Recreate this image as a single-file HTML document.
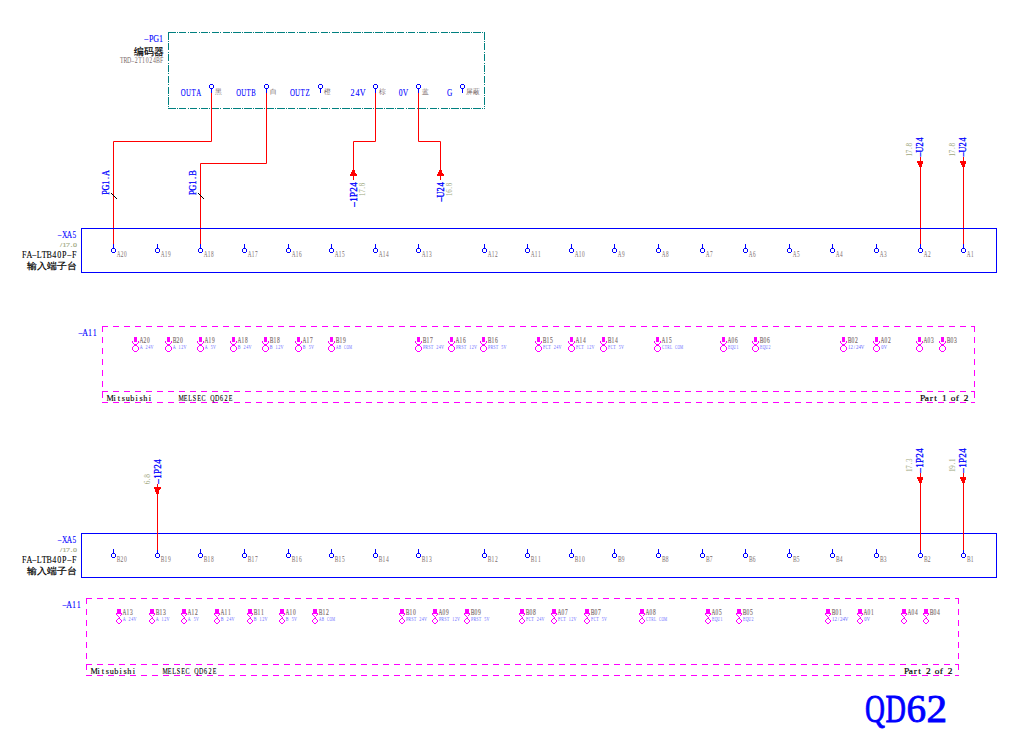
<!DOCTYPE html>
<html><head><meta charset="utf-8"><style>
html,body{margin:0;padding:0;background:#fff;width:1029px;height:731px;overflow:hidden;}
svg{display:block;}
</style></head><body>
<svg width="1029" height="731" viewBox="0 0 1029 731">
<rect x="0" y="0" width="1029" height="731" fill="#ffffff"/>
<line x1="168" y1="32.5" x2="485" y2="32.5" stroke="#008080" stroke-width="1" stroke-dasharray="7.5 1.2 1 1.2" shape-rendering="crispEdges"/>
<line x1="168.5" y1="32" x2="168.5" y2="109" stroke="#008080" stroke-width="1" stroke-dasharray="7.5 1.2 1 1.2" shape-rendering="crispEdges"/>
<line x1="168" y1="108.5" x2="485" y2="108.5" stroke="#008080" stroke-width="1" stroke-dasharray="7.5 1.2 1 1.2" shape-rendering="crispEdges"/>
<line x1="484.5" y1="32" x2="484.5" y2="109" stroke="#008080" stroke-width="1" stroke-dasharray="7.5 1.2 1 1.2" shape-rendering="crispEdges"/>
<text transform="translate(163.50,42.00) scale(0.7481376229257242,1)" x="-23.16 -16.54 -9.92 -3.31" y="0" text-anchor="middle" font-family="'Liberation Serif', serif" font-size="10.69" fill="#0000ff" stroke="#0000ff" stroke-width="0.1">–PG1</text>
<text x="163.50" y="54.50" font-family="'Liberation Sans', sans-serif" font-size="9.77" fill="#000000" text-anchor="end" stroke="#000000" stroke-width="0.2" textLength="29.50" lengthAdjust="spacingAndGlyphs">编码器</text>
<text transform="translate(163.50,62.60) scale(0.8161059512444285,1)" x="-51.08 -46.64 -42.20 -37.76 -33.31 -28.87 -24.43 -19.99 -15.55 -11.10 -6.66 -2.22" y="0" text-anchor="middle" font-family="'Liberation Serif', serif" font-size="7.18" fill="#7a6a6a">TRD–2T1024BF</text>
<path d="M210,84h3v1h-3zM210,88h3v1h-3zM209,85h1v3h-1zM213,85h1v3h-1z" fill="#0000ff"/>
<rect x="211" y="89" width="1" height="4" fill="#0000ff"/>
<text transform="translate(180.70,96.00) scale(0.6572911723339125,1)" x="3.92 11.75 19.59 27.42" y="0" text-anchor="middle" font-family="'Liberation Serif', serif" font-size="10.38" fill="#0000ff" stroke="#0000ff" stroke-width="0.1">OUTA</text>
<text x="215.00" y="93.60" font-family="'Liberation Sans', sans-serif" font-size="7.16" fill="#7a6a6a" textLength="6.80" lengthAdjust="spacingAndGlyphs">黑</text>
<path d="M265,84h3v1h-3zM265,88h3v1h-3zM264,85h1v3h-1zM268,85h1v3h-1z" fill="#0000ff"/>
<rect x="266" y="89" width="1" height="4" fill="#0000ff"/>
<text transform="translate(236.10,96.00) scale(0.6478259963070425,1)" x="3.84 11.52 19.20 26.88" y="0" text-anchor="middle" font-family="'Liberation Serif', serif" font-size="10.38" fill="#0000ff" stroke="#0000ff" stroke-width="0.1">OUTB</text>
<text x="270.00" y="93.60" font-family="'Liberation Sans', sans-serif" font-size="7.16" fill="#7a6a6a" textLength="6.80" lengthAdjust="spacingAndGlyphs">白</text>
<path d="M319,84h3v1h-3zM319,88h3v1h-3zM318,85h1v3h-1zM322,85h1v3h-1z" fill="#0000ff"/>
<rect x="320" y="89" width="1" height="4" fill="#0000ff"/>
<text transform="translate(290.10,96.00) scale(0.6614706830424483,1)" x="3.76 11.28 18.80 26.32" y="0" text-anchor="middle" font-family="'Liberation Serif', serif" font-size="10.38" fill="#0000ff" stroke="#0000ff" stroke-width="0.1">OUTZ</text>
<text x="324.00" y="93.60" font-family="'Liberation Sans', sans-serif" font-size="7.16" fill="#7a6a6a" textLength="6.80" lengthAdjust="spacingAndGlyphs">橙</text>
<path d="M374,84h3v1h-3zM374,88h3v1h-3zM373,85h1v3h-1zM377,85h1v3h-1z" fill="#0000ff"/>
<rect x="375" y="89" width="1" height="4" fill="#0000ff"/>
<text transform="translate(349.90,96.00) scale(0.7821468403409009,1)" x="3.24 9.72 16.19" y="0" text-anchor="middle" font-family="'Liberation Serif', serif" font-size="10.38" fill="#0000ff" stroke="#0000ff" stroke-width="0.1">24V</text>
<text x="379.00" y="93.60" font-family="'Liberation Sans', sans-serif" font-size="7.16" fill="#7a6a6a" textLength="6.80" lengthAdjust="spacingAndGlyphs">棕</text>
<path d="M417,84h3v1h-3zM417,88h3v1h-3zM416,85h1v3h-1zM420,85h1v3h-1z" fill="#0000ff"/>
<rect x="418" y="89" width="1" height="4" fill="#0000ff"/>
<text transform="translate(398.00,96.00) scale(0.7323365185307044,1)" x="3.45 10.34" y="0" text-anchor="middle" font-family="'Liberation Serif', serif" font-size="10.38" fill="#0000ff" stroke="#0000ff" stroke-width="0.1">0V</text>
<text x="422.00" y="93.60" font-family="'Liberation Sans', sans-serif" font-size="7.16" fill="#7a6a6a" textLength="6.80" lengthAdjust="spacingAndGlyphs">蓝</text>
<path d="M461,84h3v1h-3zM461,88h3v1h-3zM460,85h1v3h-1zM464,85h1v3h-1z" fill="#0000ff"/>
<rect x="462" y="89" width="1" height="4" fill="#0000ff"/>
<text transform="translate(446.70,96.00) scale(0.7117213379469421,1)" x="4.07" y="0" text-anchor="middle" font-family="'Liberation Serif', serif" font-size="10.38" fill="#0000ff" stroke="#0000ff" stroke-width="0.1">G</text>
<text x="466.00" y="93.60" font-family="'Liberation Sans', sans-serif" font-size="7.16" fill="#7a6a6a" textLength="13.60" lengthAdjust="spacingAndGlyphs">屏蔽</text>
<polyline points="211.5,93 211.5,141.5 113.5,141.5 113.5,244" fill="none" stroke="#ff0000" stroke-width="1"/>
<polyline points="266.5,93 266.5,163.5 200.5,163.5 200.5,244" fill="none" stroke="#ff0000" stroke-width="1"/>
<polyline points="375.5,93 375.5,141.5 353.5,141.5 353.5,170" fill="none" stroke="#ff0000" stroke-width="1"/>
<polyline points="418.5,93 418.5,141.5 440.5,141.5 440.5,170" fill="none" stroke="#ff0000" stroke-width="1"/>
<text transform="translate(108.50,195.00) rotate(-90) scale(0.7668093023255816,1)" x="3.20 9.59 15.98 22.37 28.76" y="0" text-anchor="middle" font-family="'Liberation Serif', serif" font-size="10.69" fill="#0000ff" stroke="#0000ff" stroke-width="0.25">PG1.A</text>
<line x1="111.0" y1="193" x2="117.0" y2="199" stroke="#000000" stroke-width="1"/>
<text transform="translate(195.50,195.00) rotate(-90) scale(0.7825066666666669,1)" x="3.13 9.39 15.65 21.92 28.18" y="0" text-anchor="middle" font-family="'Liberation Serif', serif" font-size="10.69" fill="#0000ff" stroke="#0000ff" stroke-width="0.25">PG1.B</text>
<line x1="198.0" y1="193" x2="204.0" y2="199" stroke="#000000" stroke-width="1"/>
<path d="M352,170h3v1h-3zM352,171h3v1h-3zM351,172h4v1h-4zM351,173h5v1h-5zM350,174h7v1h-7zM350,175h7v1h-7z" fill="#ff0000"/>
<line x1="353.5" y1="176" x2="353.5" y2="180" stroke="#ff0000" stroke-width="1"/>
<text transform="translate(357.30,207.00) rotate(-90) scale(0.8419462409605677,1)" x="2.97 8.91 14.85 20.79 26.72" y="0" text-anchor="middle" font-family="'Liberation Serif', serif" font-size="10.69" fill="#0000ff" stroke="#0000ff" stroke-width="0.35">–1P24</text>
<text transform="translate(365.00,196.00) rotate(-90) scale(0.9325952380952381,1)" x="1.74 5.23 8.71 12.20" y="0" text-anchor="middle" font-family="'Liberation Serif', serif" font-size="7.33" fill="#a0a880">17.8</text>
<path d="M439,170h3v1h-3zM439,171h3v1h-3zM438,172h4v1h-4zM438,173h5v1h-5zM437,174h7v1h-7zM437,175h7v1h-7z" fill="#ff0000"/>
<line x1="440.5" y1="176" x2="440.5" y2="180" stroke="#ff0000" stroke-width="1"/>
<text transform="translate(444.30,202.00) rotate(-90) scale(0.7747903443513201,1)" x="3.23 9.68 16.13 22.59" y="0" text-anchor="middle" font-family="'Liberation Serif', serif" font-size="10.69" fill="#0000ff" stroke="#0000ff" stroke-width="0.35">–U24</text>
<text transform="translate(452.00,196.00) rotate(-90) scale(0.9325952380952381,1)" x="1.74 5.23 8.71 12.20" y="0" text-anchor="middle" font-family="'Liberation Serif', serif" font-size="7.33" fill="#a0a880">16.8</text>
<line x1="920.5" y1="157" x2="920.5" y2="245" stroke="#ff0000" stroke-width="1"/>
<path d="M917,161h6v1h-6zM917,162h6v1h-6zM918,163h5v1h-5zM918,164h4v1h-4zM919,165h3v1h-3zM919,166h3v1h-3z" fill="#ff0000"/>
<text transform="translate(923.10,157.00) rotate(-90) scale(0.7747903443513201,1)" x="3.23 9.68 16.13 22.59" y="0" text-anchor="middle" font-family="'Liberation Serif', serif" font-size="10.69" fill="#0000ff" stroke="#0000ff" stroke-width="0.3">–U24</text>
<text transform="translate(912.00,156.50) rotate(-90) scale(0.9684642857142857,1)" x="1.74 5.23 8.71 12.20" y="0" text-anchor="middle" font-family="'Liberation Serif', serif" font-size="7.33" fill="#a0a880">17.8</text>
<line x1="963.5" y1="157" x2="963.5" y2="245" stroke="#ff0000" stroke-width="1"/>
<path d="M960,161h6v1h-6zM960,162h6v1h-6zM961,163h5v1h-5zM961,164h4v1h-4zM962,165h3v1h-3zM962,166h3v1h-3z" fill="#ff0000"/>
<text transform="translate(966.10,157.00) rotate(-90) scale(0.7747903443513201,1)" x="3.23 9.68 16.13 22.59" y="0" text-anchor="middle" font-family="'Liberation Serif', serif" font-size="10.69" fill="#0000ff" stroke="#0000ff" stroke-width="0.3">–U24</text>
<text transform="translate(955.00,156.50) rotate(-90) scale(0.9684642857142857,1)" x="1.74 5.23 8.71 12.20" y="0" text-anchor="middle" font-family="'Liberation Serif', serif" font-size="7.33" fill="#a0a880">17.8</text>
<rect x="81.5" y="228.5" width="915" height="44" fill="none" stroke="#0000ff" stroke-width="1"/>
<path d="M112,248h3v1h-3zM112,252h3v1h-3zM111,249h1v3h-1zM115,249h1v3h-1z" fill="#0000ff"/>
<rect x="113" y="244" width="1" height="4" fill="#0000ff"/>
<text transform="translate(117.00,257.00) scale(0.7140975448869652,1)" x="2.33 7.00 11.67" y="0" text-anchor="middle" font-family="'Liberation Serif', serif" font-size="7.48" fill="#7a6a6a">A20</text>
<path d="M156,248h3v1h-3zM156,252h3v1h-3zM155,249h1v3h-1zM159,249h1v3h-1z" fill="#0000ff"/>
<rect x="157" y="244" width="1" height="4" fill="#0000ff"/>
<text transform="translate(161.00,257.00) scale(0.7140975448869652,1)" x="2.33 7.00 11.67" y="0" text-anchor="middle" font-family="'Liberation Serif', serif" font-size="7.48" fill="#7a6a6a">A19</text>
<path d="M199,248h3v1h-3zM199,252h3v1h-3zM198,249h1v3h-1zM202,249h1v3h-1z" fill="#0000ff"/>
<rect x="200" y="244" width="1" height="4" fill="#0000ff"/>
<text transform="translate(204.00,257.00) scale(0.7140975448869652,1)" x="2.33 7.00 11.67" y="0" text-anchor="middle" font-family="'Liberation Serif', serif" font-size="7.48" fill="#7a6a6a">A18</text>
<path d="M243,248h3v1h-3zM243,252h3v1h-3zM242,249h1v3h-1zM246,249h1v3h-1z" fill="#0000ff"/>
<rect x="244" y="244" width="1" height="4" fill="#0000ff"/>
<text transform="translate(248.00,257.00) scale(0.7140975448869652,1)" x="2.33 7.00 11.67" y="0" text-anchor="middle" font-family="'Liberation Serif', serif" font-size="7.48" fill="#7a6a6a">A17</text>
<path d="M287,248h3v1h-3zM287,252h3v1h-3zM286,249h1v3h-1zM290,249h1v3h-1z" fill="#0000ff"/>
<rect x="288" y="244" width="1" height="4" fill="#0000ff"/>
<text transform="translate(292.00,257.00) scale(0.7140975448869652,1)" x="2.33 7.00 11.67" y="0" text-anchor="middle" font-family="'Liberation Serif', serif" font-size="7.48" fill="#7a6a6a">A16</text>
<path d="M330,248h3v1h-3zM330,252h3v1h-3zM329,249h1v3h-1zM333,249h1v3h-1z" fill="#0000ff"/>
<rect x="331" y="244" width="1" height="4" fill="#0000ff"/>
<text transform="translate(335.00,257.00) scale(0.7140975448869652,1)" x="2.33 7.00 11.67" y="0" text-anchor="middle" font-family="'Liberation Serif', serif" font-size="7.48" fill="#7a6a6a">A15</text>
<path d="M374,248h3v1h-3zM374,252h3v1h-3zM373,249h1v3h-1zM377,249h1v3h-1z" fill="#0000ff"/>
<rect x="375" y="244" width="1" height="4" fill="#0000ff"/>
<text transform="translate(379.00,257.00) scale(0.7140975448869652,1)" x="2.33 7.00 11.67" y="0" text-anchor="middle" font-family="'Liberation Serif', serif" font-size="7.48" fill="#7a6a6a">A14</text>
<path d="M417,248h3v1h-3zM417,252h3v1h-3zM416,249h1v3h-1zM420,249h1v3h-1z" fill="#0000ff"/>
<rect x="418" y="244" width="1" height="4" fill="#0000ff"/>
<text transform="translate(422.00,257.00) scale(0.7140975448869652,1)" x="2.33 7.00 11.67" y="0" text-anchor="middle" font-family="'Liberation Serif', serif" font-size="7.48" fill="#7a6a6a">A13</text>
<path d="M483,248h3v1h-3zM483,252h3v1h-3zM482,249h1v3h-1zM486,249h1v3h-1z" fill="#0000ff"/>
<rect x="484" y="244" width="1" height="4" fill="#0000ff"/>
<text transform="translate(488.00,257.00) scale(0.7140975448869652,1)" x="2.33 7.00 11.67" y="0" text-anchor="middle" font-family="'Liberation Serif', serif" font-size="7.48" fill="#7a6a6a">A12</text>
<path d="M526,248h3v1h-3zM526,252h3v1h-3zM525,249h1v3h-1zM529,249h1v3h-1z" fill="#0000ff"/>
<rect x="527" y="244" width="1" height="4" fill="#0000ff"/>
<text transform="translate(531.00,257.00) scale(0.7140975448869652,1)" x="2.33 7.00 11.67" y="0" text-anchor="middle" font-family="'Liberation Serif', serif" font-size="7.48" fill="#7a6a6a">A11</text>
<path d="M570,248h3v1h-3zM570,252h3v1h-3zM569,249h1v3h-1zM573,249h1v3h-1z" fill="#0000ff"/>
<rect x="571" y="244" width="1" height="4" fill="#0000ff"/>
<text transform="translate(575.00,257.00) scale(0.7140975448869652,1)" x="2.33 7.00 11.67" y="0" text-anchor="middle" font-family="'Liberation Serif', serif" font-size="7.48" fill="#7a6a6a">A10</text>
<path d="M613,248h3v1h-3zM613,252h3v1h-3zM612,249h1v3h-1zM616,249h1v3h-1z" fill="#0000ff"/>
<rect x="614" y="244" width="1" height="4" fill="#0000ff"/>
<text transform="translate(618.00,257.00) scale(0.7043689287141145,1)" x="2.48 7.45" y="0" text-anchor="middle" font-family="'Liberation Serif', serif" font-size="7.48" fill="#7a6a6a">A9</text>
<path d="M657,248h3v1h-3zM657,252h3v1h-3zM656,249h1v3h-1zM660,249h1v3h-1z" fill="#0000ff"/>
<rect x="658" y="244" width="1" height="4" fill="#0000ff"/>
<text transform="translate(662.00,257.00) scale(0.7043689287141145,1)" x="2.48 7.45" y="0" text-anchor="middle" font-family="'Liberation Serif', serif" font-size="7.48" fill="#7a6a6a">A8</text>
<path d="M701,248h3v1h-3zM701,252h3v1h-3zM700,249h1v3h-1zM704,249h1v3h-1z" fill="#0000ff"/>
<rect x="702" y="244" width="1" height="4" fill="#0000ff"/>
<text transform="translate(706.00,257.00) scale(0.7043689287141145,1)" x="2.48 7.45" y="0" text-anchor="middle" font-family="'Liberation Serif', serif" font-size="7.48" fill="#7a6a6a">A7</text>
<path d="M744,248h3v1h-3zM744,252h3v1h-3zM743,249h1v3h-1zM747,249h1v3h-1z" fill="#0000ff"/>
<rect x="745" y="244" width="1" height="4" fill="#0000ff"/>
<text transform="translate(749.00,257.00) scale(0.7043689287141145,1)" x="2.48 7.45" y="0" text-anchor="middle" font-family="'Liberation Serif', serif" font-size="7.48" fill="#7a6a6a">A6</text>
<path d="M788,248h3v1h-3zM788,252h3v1h-3zM787,249h1v3h-1zM791,249h1v3h-1z" fill="#0000ff"/>
<rect x="789" y="244" width="1" height="4" fill="#0000ff"/>
<text transform="translate(793.00,257.00) scale(0.7043689287141145,1)" x="2.48 7.45" y="0" text-anchor="middle" font-family="'Liberation Serif', serif" font-size="7.48" fill="#7a6a6a">A5</text>
<path d="M831,248h3v1h-3zM831,252h3v1h-3zM830,249h1v3h-1zM834,249h1v3h-1z" fill="#0000ff"/>
<rect x="832" y="244" width="1" height="4" fill="#0000ff"/>
<text transform="translate(836.00,257.00) scale(0.7043689287141145,1)" x="2.48 7.45" y="0" text-anchor="middle" font-family="'Liberation Serif', serif" font-size="7.48" fill="#7a6a6a">A4</text>
<path d="M875,248h3v1h-3zM875,252h3v1h-3zM874,249h1v3h-1zM878,249h1v3h-1z" fill="#0000ff"/>
<rect x="876" y="244" width="1" height="4" fill="#0000ff"/>
<text transform="translate(880.00,257.00) scale(0.7043689287141145,1)" x="2.48 7.45" y="0" text-anchor="middle" font-family="'Liberation Serif', serif" font-size="7.48" fill="#7a6a6a">A3</text>
<path d="M919,248h3v1h-3zM919,252h3v1h-3zM918,249h1v3h-1zM922,249h1v3h-1z" fill="#0000ff"/>
<rect x="920" y="244" width="1" height="4" fill="#0000ff"/>
<text transform="translate(924.00,257.00) scale(0.7043689287141145,1)" x="2.48 7.45" y="0" text-anchor="middle" font-family="'Liberation Serif', serif" font-size="7.48" fill="#7a6a6a">A2</text>
<path d="M962,248h3v1h-3zM962,252h3v1h-3zM961,249h1v3h-1zM965,249h1v3h-1z" fill="#0000ff"/>
<rect x="963" y="244" width="1" height="4" fill="#0000ff"/>
<text transform="translate(967.00,257.00) scale(0.7043689287141145,1)" x="2.48 7.45" y="0" text-anchor="middle" font-family="'Liberation Serif', serif" font-size="7.48" fill="#7a6a6a">A1</text>
<text transform="translate(76.80,237.80) scale(0.7321167956028525,1)" x="-23.43 -16.73 -10.04 -3.35" y="0" text-anchor="middle" font-family="'Liberation Serif', serif" font-size="10.08" fill="#0000ff" stroke="#0000ff" stroke-width="0.1">–XA5</text>
<text transform="translate(76.80,247.00) scale(1.1819048661427665,1)" x="-13.33 -10.36 -7.40 -4.44 -1.48" y="0" text-anchor="middle" font-family="'Liberation Serif', serif" font-size="6.72" fill="#a0a880" stroke="#a0a880" stroke-width="0.15">/17.0</text>
<text transform="translate(76.80,258.00) scale(0.7997179885951271,1)" x="-65.65 -59.40 -53.14 -46.89 -40.64 -34.39 -28.13 -21.88 -15.63 -9.38 -3.13" y="0" text-anchor="middle" font-family="'Liberation Serif', serif" font-size="10.08" fill="#000000" stroke="#000000" stroke-width="0.1">FA–LTB40P–F</text>
<text x="76.80" y="269.00" font-family="'Liberation Sans', sans-serif" font-size="9.09" fill="#000000" text-anchor="end" stroke="#000000" stroke-width="0.2" textLength="49.50" lengthAdjust="spacingAndGlyphs">输入端子台</text>
<rect x="81.5" y="533.5" width="915" height="44" fill="none" stroke="#0000ff" stroke-width="1"/>
<path d="M112,553h3v1h-3zM112,557h3v1h-3zM111,554h1v3h-1zM115,554h1v3h-1z" fill="#0000ff"/>
<rect x="113" y="549" width="1" height="4" fill="#0000ff"/>
<text transform="translate(117.00,562.00) scale(0.7377334624535228,1)" x="2.26 6.78 11.30" y="0" text-anchor="middle" font-family="'Liberation Serif', serif" font-size="7.48" fill="#7a6a6a">B20</text>
<path d="M156,553h3v1h-3zM156,557h3v1h-3zM155,554h1v3h-1zM159,554h1v3h-1z" fill="#0000ff"/>
<rect x="157" y="549" width="1" height="4" fill="#0000ff"/>
<text transform="translate(161.00,562.00) scale(0.7377334624535228,1)" x="2.26 6.78 11.30" y="0" text-anchor="middle" font-family="'Liberation Serif', serif" font-size="7.48" fill="#7a6a6a">B19</text>
<path d="M199,553h3v1h-3zM199,557h3v1h-3zM198,554h1v3h-1zM202,554h1v3h-1z" fill="#0000ff"/>
<rect x="200" y="549" width="1" height="4" fill="#0000ff"/>
<text transform="translate(204.00,562.00) scale(0.7377334624535228,1)" x="2.26 6.78 11.30" y="0" text-anchor="middle" font-family="'Liberation Serif', serif" font-size="7.48" fill="#7a6a6a">B18</text>
<path d="M243,553h3v1h-3zM243,557h3v1h-3zM242,554h1v3h-1zM246,554h1v3h-1z" fill="#0000ff"/>
<rect x="244" y="549" width="1" height="4" fill="#0000ff"/>
<text transform="translate(248.00,562.00) scale(0.7377334624535228,1)" x="2.26 6.78 11.30" y="0" text-anchor="middle" font-family="'Liberation Serif', serif" font-size="7.48" fill="#7a6a6a">B17</text>
<path d="M287,553h3v1h-3zM287,557h3v1h-3zM286,554h1v3h-1zM290,554h1v3h-1z" fill="#0000ff"/>
<rect x="288" y="549" width="1" height="4" fill="#0000ff"/>
<text transform="translate(292.00,562.00) scale(0.7377334624535228,1)" x="2.26 6.78 11.30" y="0" text-anchor="middle" font-family="'Liberation Serif', serif" font-size="7.48" fill="#7a6a6a">B16</text>
<path d="M330,553h3v1h-3zM330,557h3v1h-3zM329,554h1v3h-1zM333,554h1v3h-1z" fill="#0000ff"/>
<rect x="331" y="549" width="1" height="4" fill="#0000ff"/>
<text transform="translate(335.00,562.00) scale(0.7377334624535228,1)" x="2.26 6.78 11.30" y="0" text-anchor="middle" font-family="'Liberation Serif', serif" font-size="7.48" fill="#7a6a6a">B15</text>
<path d="M374,553h3v1h-3zM374,557h3v1h-3zM373,554h1v3h-1zM377,554h1v3h-1z" fill="#0000ff"/>
<rect x="375" y="549" width="1" height="4" fill="#0000ff"/>
<text transform="translate(379.00,562.00) scale(0.7377334624535228,1)" x="2.26 6.78 11.30" y="0" text-anchor="middle" font-family="'Liberation Serif', serif" font-size="7.48" fill="#7a6a6a">B14</text>
<path d="M417,553h3v1h-3zM417,557h3v1h-3zM416,554h1v3h-1zM420,554h1v3h-1z" fill="#0000ff"/>
<rect x="418" y="549" width="1" height="4" fill="#0000ff"/>
<text transform="translate(422.00,562.00) scale(0.7377334624535228,1)" x="2.26 6.78 11.30" y="0" text-anchor="middle" font-family="'Liberation Serif', serif" font-size="7.48" fill="#7a6a6a">B13</text>
<path d="M483,553h3v1h-3zM483,557h3v1h-3zM482,554h1v3h-1zM486,554h1v3h-1z" fill="#0000ff"/>
<rect x="484" y="549" width="1" height="4" fill="#0000ff"/>
<text transform="translate(488.00,562.00) scale(0.7377334624535228,1)" x="2.26 6.78 11.30" y="0" text-anchor="middle" font-family="'Liberation Serif', serif" font-size="7.48" fill="#7a6a6a">B12</text>
<path d="M526,553h3v1h-3zM526,557h3v1h-3zM525,554h1v3h-1zM529,554h1v3h-1z" fill="#0000ff"/>
<rect x="527" y="549" width="1" height="4" fill="#0000ff"/>
<text transform="translate(531.00,562.00) scale(0.7377334624535228,1)" x="2.26 6.78 11.30" y="0" text-anchor="middle" font-family="'Liberation Serif', serif" font-size="7.48" fill="#7a6a6a">B11</text>
<path d="M570,553h3v1h-3zM570,557h3v1h-3zM569,554h1v3h-1zM573,554h1v3h-1z" fill="#0000ff"/>
<rect x="571" y="549" width="1" height="4" fill="#0000ff"/>
<text transform="translate(575.00,562.00) scale(0.7377334624535228,1)" x="2.26 6.78 11.30" y="0" text-anchor="middle" font-family="'Liberation Serif', serif" font-size="7.48" fill="#7a6a6a">B10</text>
<path d="M613,553h3v1h-3zM613,557h3v1h-3zM612,554h1v3h-1zM616,554h1v3h-1z" fill="#0000ff"/>
<rect x="614" y="549" width="1" height="4" fill="#0000ff"/>
<text transform="translate(618.00,562.00) scale(0.7376717274357443,1)" x="2.37 7.12" y="0" text-anchor="middle" font-family="'Liberation Serif', serif" font-size="7.48" fill="#7a6a6a">B9</text>
<path d="M657,553h3v1h-3zM657,557h3v1h-3zM656,554h1v3h-1zM660,554h1v3h-1z" fill="#0000ff"/>
<rect x="658" y="549" width="1" height="4" fill="#0000ff"/>
<text transform="translate(662.00,562.00) scale(0.7376717274357443,1)" x="2.37 7.12" y="0" text-anchor="middle" font-family="'Liberation Serif', serif" font-size="7.48" fill="#7a6a6a">B8</text>
<path d="M701,553h3v1h-3zM701,557h3v1h-3zM700,554h1v3h-1zM704,554h1v3h-1z" fill="#0000ff"/>
<rect x="702" y="549" width="1" height="4" fill="#0000ff"/>
<text transform="translate(706.00,562.00) scale(0.7376717274357443,1)" x="2.37 7.12" y="0" text-anchor="middle" font-family="'Liberation Serif', serif" font-size="7.48" fill="#7a6a6a">B7</text>
<path d="M744,553h3v1h-3zM744,557h3v1h-3zM743,554h1v3h-1zM747,554h1v3h-1z" fill="#0000ff"/>
<rect x="745" y="549" width="1" height="4" fill="#0000ff"/>
<text transform="translate(749.00,562.00) scale(0.7376717274357443,1)" x="2.37 7.12" y="0" text-anchor="middle" font-family="'Liberation Serif', serif" font-size="7.48" fill="#7a6a6a">B6</text>
<path d="M788,553h3v1h-3zM788,557h3v1h-3zM787,554h1v3h-1zM791,554h1v3h-1z" fill="#0000ff"/>
<rect x="789" y="549" width="1" height="4" fill="#0000ff"/>
<text transform="translate(793.00,562.00) scale(0.7376717274357443,1)" x="2.37 7.12" y="0" text-anchor="middle" font-family="'Liberation Serif', serif" font-size="7.48" fill="#7a6a6a">B5</text>
<path d="M831,553h3v1h-3zM831,557h3v1h-3zM830,554h1v3h-1zM834,554h1v3h-1z" fill="#0000ff"/>
<rect x="832" y="549" width="1" height="4" fill="#0000ff"/>
<text transform="translate(836.00,562.00) scale(0.7376717274357443,1)" x="2.37 7.12" y="0" text-anchor="middle" font-family="'Liberation Serif', serif" font-size="7.48" fill="#7a6a6a">B4</text>
<path d="M875,553h3v1h-3zM875,557h3v1h-3zM874,554h1v3h-1zM878,554h1v3h-1z" fill="#0000ff"/>
<rect x="876" y="549" width="1" height="4" fill="#0000ff"/>
<text transform="translate(880.00,562.00) scale(0.7376717274357443,1)" x="2.37 7.12" y="0" text-anchor="middle" font-family="'Liberation Serif', serif" font-size="7.48" fill="#7a6a6a">B3</text>
<path d="M919,553h3v1h-3zM919,557h3v1h-3zM918,554h1v3h-1zM922,554h1v3h-1z" fill="#0000ff"/>
<rect x="920" y="549" width="1" height="4" fill="#0000ff"/>
<text transform="translate(924.00,562.00) scale(0.7376717274357443,1)" x="2.37 7.12" y="0" text-anchor="middle" font-family="'Liberation Serif', serif" font-size="7.48" fill="#7a6a6a">B2</text>
<path d="M962,553h3v1h-3zM962,557h3v1h-3zM961,554h1v3h-1zM965,554h1v3h-1z" fill="#0000ff"/>
<rect x="963" y="549" width="1" height="4" fill="#0000ff"/>
<text transform="translate(967.00,562.00) scale(0.7376717274357443,1)" x="2.37 7.12" y="0" text-anchor="middle" font-family="'Liberation Serif', serif" font-size="7.48" fill="#7a6a6a">B1</text>
<text transform="translate(76.80,542.80) scale(0.7321167956028525,1)" x="-23.43 -16.73 -10.04 -3.35" y="0" text-anchor="middle" font-family="'Liberation Serif', serif" font-size="10.08" fill="#0000ff" stroke="#0000ff" stroke-width="0.1">–XA5</text>
<text transform="translate(76.80,552.00) scale(1.1819048661427665,1)" x="-13.33 -10.36 -7.40 -4.44 -1.48" y="0" text-anchor="middle" font-family="'Liberation Serif', serif" font-size="6.72" fill="#a0a880" stroke="#a0a880" stroke-width="0.15">/17.0</text>
<text transform="translate(76.80,563.00) scale(0.7997179885951271,1)" x="-65.65 -59.40 -53.14 -46.89 -40.64 -34.39 -28.13 -21.88 -15.63 -9.38 -3.13" y="0" text-anchor="middle" font-family="'Liberation Serif', serif" font-size="10.08" fill="#000000" stroke="#000000" stroke-width="0.1">FA–LTB40P–F</text>
<text x="76.80" y="574.00" font-family="'Liberation Sans', sans-serif" font-size="9.09" fill="#000000" text-anchor="end" stroke="#000000" stroke-width="0.2" textLength="49.50" lengthAdjust="spacingAndGlyphs">输入端子台</text>
<line x1="102.0" y1="326.5" x2="975.0" y2="326.5" stroke="#ff00ff" stroke-width="1" stroke-dasharray="6 5" shape-rendering="crispEdges"/>
<line x1="102.5" y1="326.0" x2="102.5" y2="403.0" stroke="#ff00ff" stroke-width="1" stroke-dasharray="6 5" shape-rendering="crispEdges"/>
<line x1="102.0" y1="391.5" x2="975.0" y2="391.5" stroke="#ff00ff" stroke-width="1" stroke-dasharray="6 5" shape-rendering="crispEdges"/>
<line x1="102.0" y1="402.5" x2="975.0" y2="402.5" stroke="#ff00ff" stroke-width="1" stroke-dasharray="6 5" shape-rendering="crispEdges"/>
<line x1="974.5" y1="326.0" x2="974.5" y2="403.0" stroke="#ff00ff" stroke-width="1" stroke-dasharray="6 5" shape-rendering="crispEdges"/>
<text transform="translate(78.00,336.20) scale(0.788877441521344,1)" x="3.04 9.13 15.21 21.30" y="0" text-anchor="middle" font-family="'Liberation Serif', serif" font-size="10.08" fill="#0000ff" stroke="#0000ff" stroke-width="0.1">–A11</text>
<path d="M134,337h3v5h-3zM134,344h3v2h-3zM134,351h3v1h-3zM132,341h1v1h-1zM132,342h1v1h-1zM138,341h1v1h-1zM138,342h1v1h-1zM133,343h1v1h-1zM137,343h1v1h-1zM133,346h1v1h-1zM137,346h1v1h-1zM132,347h1v1h-1zM132,348h1v1h-1zM132,349h1v1h-1zM138,347h1v1h-1zM138,348h1v1h-1zM138,349h1v1h-1zM133,350h1v1h-1zM137,350h1v1h-1z" fill="#ff00ff"/>
<text transform="translate(139.80,342.80) scale(0.7138119058690106,1)" x="2.38 7.14 11.91" y="0" text-anchor="middle" font-family="'Liberation Serif', serif" font-size="7.63" fill="#7a6a6a" stroke="#7a6a6a" stroke-width="0.15">A20</text>
<text transform="translate(139.80,349.00) scale(0.6826960385998342,1)" x="1.98 5.93 9.89 13.84 17.80" y="0" text-anchor="middle" font-family="'Liberation Serif', serif" font-size="5.95" fill="#6a6aff">A 24V</text>
<path d="M167,337h3v5h-3zM167,344h3v2h-3zM167,351h3v1h-3zM165,341h1v1h-1zM165,342h1v1h-1zM171,341h1v1h-1zM171,342h1v1h-1zM166,343h1v1h-1zM170,343h1v1h-1zM166,346h1v1h-1zM170,346h1v1h-1zM165,347h1v1h-1zM165,348h1v1h-1zM165,349h1v1h-1zM171,347h1v1h-1zM171,348h1v1h-1zM171,349h1v1h-1zM166,350h1v1h-1zM170,350h1v1h-1z" fill="#ff00ff"/>
<text transform="translate(172.80,342.80) scale(0.7374383690685413,1)" x="2.31 6.92 11.53" y="0" text-anchor="middle" font-family="'Liberation Serif', serif" font-size="7.63" fill="#7a6a6a" stroke="#7a6a6a" stroke-width="0.15">B20</text>
<text transform="translate(172.80,349.00) scale(0.6826960385998342,1)" x="1.98 5.93 9.89 13.84 17.80" y="0" text-anchor="middle" font-family="'Liberation Serif', serif" font-size="5.95" fill="#6a6aff">A 12V</text>
<path d="M199,337h3v5h-3zM199,344h3v2h-3zM199,351h3v1h-3zM197,341h1v1h-1zM197,342h1v1h-1zM203,341h1v1h-1zM203,342h1v1h-1zM198,343h1v1h-1zM202,343h1v1h-1zM198,346h1v1h-1zM202,346h1v1h-1zM197,347h1v1h-1zM197,348h1v1h-1zM197,349h1v1h-1zM203,347h1v1h-1zM203,348h1v1h-1zM203,349h1v1h-1zM198,350h1v1h-1zM202,350h1v1h-1z" fill="#ff00ff"/>
<text transform="translate(204.80,342.80) scale(0.7138119058690106,1)" x="2.38 7.14 11.91" y="0" text-anchor="middle" font-family="'Liberation Serif', serif" font-size="7.63" fill="#7a6a6a" stroke="#7a6a6a" stroke-width="0.15">A19</text>
<text transform="translate(204.80,349.00) scale(0.6556124096897579,1)" x="2.10 6.29 10.49 14.68" y="0" text-anchor="middle" font-family="'Liberation Serif', serif" font-size="5.95" fill="#6a6aff">A 5V</text>
<path d="M232,337h3v5h-3zM232,344h3v2h-3zM232,351h3v1h-3zM230,341h1v1h-1zM230,342h1v1h-1zM236,341h1v1h-1zM236,342h1v1h-1zM231,343h1v1h-1zM235,343h1v1h-1zM231,346h1v1h-1zM235,346h1v1h-1zM230,347h1v1h-1zM230,348h1v1h-1zM230,349h1v1h-1zM236,347h1v1h-1zM236,348h1v1h-1zM236,349h1v1h-1zM231,350h1v1h-1zM235,350h1v1h-1z" fill="#ff00ff"/>
<text transform="translate(237.80,342.80) scale(0.7138119058690106,1)" x="2.38 7.14 11.91" y="0" text-anchor="middle" font-family="'Liberation Serif', serif" font-size="7.63" fill="#7a6a6a" stroke="#7a6a6a" stroke-width="0.15">A18</text>
<text transform="translate(237.80,349.00) scale(0.698462368532755,1)" x="1.93 5.80 9.66 13.53 17.40" y="0" text-anchor="middle" font-family="'Liberation Serif', serif" font-size="5.95" fill="#6a6aff">B 24V</text>
<path d="M264,337h3v5h-3zM264,344h3v2h-3zM264,351h3v1h-3zM262,341h1v1h-1zM262,342h1v1h-1zM268,341h1v1h-1zM268,342h1v1h-1zM263,343h1v1h-1zM267,343h1v1h-1zM263,346h1v1h-1zM267,346h1v1h-1zM262,347h1v1h-1zM262,348h1v1h-1zM262,349h1v1h-1zM268,347h1v1h-1zM268,348h1v1h-1zM268,349h1v1h-1zM263,350h1v1h-1zM267,350h1v1h-1z" fill="#ff00ff"/>
<text transform="translate(269.80,342.80) scale(0.7374383690685413,1)" x="2.31 6.92 11.53" y="0" text-anchor="middle" font-family="'Liberation Serif', serif" font-size="7.63" fill="#7a6a6a" stroke="#7a6a6a" stroke-width="0.15">B18</text>
<text transform="translate(269.80,349.00) scale(0.698462368532755,1)" x="1.93 5.80 9.66 13.53 17.40" y="0" text-anchor="middle" font-family="'Liberation Serif', serif" font-size="5.95" fill="#6a6aff">B 12V</text>
<path d="M297,337h3v5h-3zM297,344h3v2h-3zM297,351h3v1h-3zM295,341h1v1h-1zM295,342h1v1h-1zM301,341h1v1h-1zM301,342h1v1h-1zM296,343h1v1h-1zM300,343h1v1h-1zM296,346h1v1h-1zM300,346h1v1h-1zM295,347h1v1h-1zM295,348h1v1h-1zM295,349h1v1h-1zM301,347h1v1h-1zM301,348h1v1h-1zM301,349h1v1h-1zM296,350h1v1h-1zM300,350h1v1h-1z" fill="#ff00ff"/>
<text transform="translate(302.80,342.80) scale(0.7138119058690106,1)" x="2.38 7.14 11.91" y="0" text-anchor="middle" font-family="'Liberation Serif', serif" font-size="7.63" fill="#7a6a6a" stroke="#7a6a6a" stroke-width="0.15">A17</text>
<text transform="translate(302.80,349.00) scale(0.6747605622601747,1)" x="2.04 6.11 10.19 14.26" y="0" text-anchor="middle" font-family="'Liberation Serif', serif" font-size="5.95" fill="#6a6aff">B 5V</text>
<path d="M330,337h3v5h-3zM330,344h3v2h-3zM330,351h3v1h-3zM328,341h1v1h-1zM328,342h1v1h-1zM334,341h1v1h-1zM334,342h1v1h-1zM329,343h1v1h-1zM333,343h1v1h-1zM329,346h1v1h-1zM333,346h1v1h-1zM328,347h1v1h-1zM328,348h1v1h-1zM328,349h1v1h-1zM334,347h1v1h-1zM334,348h1v1h-1zM334,349h1v1h-1zM329,350h1v1h-1zM333,350h1v1h-1z" fill="#ff00ff"/>
<text transform="translate(335.80,342.80) scale(0.7374383690685413,1)" x="2.31 6.92 11.53" y="0" text-anchor="middle" font-family="'Liberation Serif', serif" font-size="7.63" fill="#7a6a6a" stroke="#7a6a6a" stroke-width="0.15">B19</text>
<text transform="translate(335.80,349.00) scale(0.5617401258780569,1)" x="2.37 7.12 11.87 16.62 21.36 26.11" y="0" text-anchor="middle" font-family="'Liberation Serif', serif" font-size="5.95" fill="#6a6aff">AB COM</text>
<path d="M417,337h3v5h-3zM417,344h3v2h-3zM417,351h3v1h-3zM415,341h1v1h-1zM415,342h1v1h-1zM421,341h1v1h-1zM421,342h1v1h-1zM416,343h1v1h-1zM420,343h1v1h-1zM416,346h1v1h-1zM420,346h1v1h-1zM415,347h1v1h-1zM415,348h1v1h-1zM415,349h1v1h-1zM421,347h1v1h-1zM421,348h1v1h-1zM421,349h1v1h-1zM416,350h1v1h-1zM420,350h1v1h-1z" fill="#ff00ff"/>
<text transform="translate(422.80,342.80) scale(0.7374383690685413,1)" x="2.31 6.92 11.53" y="0" text-anchor="middle" font-family="'Liberation Serif', serif" font-size="7.63" fill="#7a6a6a" stroke="#7a6a6a" stroke-width="0.15">B17</text>
<text transform="translate(422.80,349.00) scale(0.6904092212702995,1)" x="1.90 5.70 9.51 13.31 17.11 20.91 24.71 28.52" y="0" text-anchor="middle" font-family="'Liberation Serif', serif" font-size="5.95" fill="#6a6aff">PRST 24V</text>
<path d="M450,337h3v5h-3zM450,344h3v2h-3zM450,351h3v1h-3zM448,341h1v1h-1zM448,342h1v1h-1zM454,341h1v1h-1zM454,342h1v1h-1zM449,343h1v1h-1zM453,343h1v1h-1zM449,346h1v1h-1zM453,346h1v1h-1zM448,347h1v1h-1zM448,348h1v1h-1zM448,349h1v1h-1zM454,347h1v1h-1zM454,348h1v1h-1zM454,349h1v1h-1zM449,350h1v1h-1zM453,350h1v1h-1z" fill="#ff00ff"/>
<text transform="translate(455.80,342.80) scale(0.7138119058690106,1)" x="2.38 7.14 11.91" y="0" text-anchor="middle" font-family="'Liberation Serif', serif" font-size="7.63" fill="#7a6a6a" stroke="#7a6a6a" stroke-width="0.15">A16</text>
<text transform="translate(455.80,349.00) scale(0.6904092212702995,1)" x="1.90 5.70 9.51 13.31 17.11 20.91 24.71 28.52" y="0" text-anchor="middle" font-family="'Liberation Serif', serif" font-size="5.95" fill="#6a6aff">PRST 12V</text>
<path d="M482,337h3v5h-3zM482,344h3v2h-3zM482,351h3v1h-3zM480,341h1v1h-1zM480,342h1v1h-1zM486,341h1v1h-1zM486,342h1v1h-1zM481,343h1v1h-1zM485,343h1v1h-1zM481,346h1v1h-1zM485,346h1v1h-1zM480,347h1v1h-1zM480,348h1v1h-1zM480,349h1v1h-1zM486,347h1v1h-1zM486,348h1v1h-1zM486,349h1v1h-1zM481,350h1v1h-1zM485,350h1v1h-1z" fill="#ff00ff"/>
<text transform="translate(487.80,342.80) scale(0.7374383690685413,1)" x="2.31 6.92 11.53" y="0" text-anchor="middle" font-family="'Liberation Serif', serif" font-size="7.63" fill="#7a6a6a" stroke="#7a6a6a" stroke-width="0.15">B16</text>
<text transform="translate(487.80,349.00) scale(0.678273866711823,1)" x="1.95 5.84 9.74 13.64 17.53 21.43 25.33" y="0" text-anchor="middle" font-family="'Liberation Serif', serif" font-size="5.95" fill="#6a6aff">PRST 5V</text>
<path d="M537,337h3v5h-3zM537,344h3v2h-3zM537,351h3v1h-3zM535,341h1v1h-1zM535,342h1v1h-1zM541,341h1v1h-1zM541,342h1v1h-1zM536,343h1v1h-1zM540,343h1v1h-1zM536,346h1v1h-1zM540,346h1v1h-1zM535,347h1v1h-1zM535,348h1v1h-1zM535,349h1v1h-1zM541,347h1v1h-1zM541,348h1v1h-1zM541,349h1v1h-1zM536,350h1v1h-1zM540,350h1v1h-1z" fill="#ff00ff"/>
<text transform="translate(542.80,342.80) scale(0.7374383690685413,1)" x="2.31 6.92 11.53" y="0" text-anchor="middle" font-family="'Liberation Serif', serif" font-size="7.63" fill="#7a6a6a" stroke="#7a6a6a" stroke-width="0.15">B15</text>
<text transform="translate(542.80,349.00) scale(0.6889839442446886,1)" x="1.92 5.75 9.59 13.43 17.26 21.10 24.93" y="0" text-anchor="middle" font-family="'Liberation Serif', serif" font-size="5.95" fill="#6a6aff">FCT 24V</text>
<path d="M570,337h3v5h-3zM570,344h3v2h-3zM570,351h3v1h-3zM568,341h1v1h-1zM568,342h1v1h-1zM574,341h1v1h-1zM574,342h1v1h-1zM569,343h1v1h-1zM573,343h1v1h-1zM569,346h1v1h-1zM573,346h1v1h-1zM568,347h1v1h-1zM568,348h1v1h-1zM568,349h1v1h-1zM574,347h1v1h-1zM574,348h1v1h-1zM574,349h1v1h-1zM569,350h1v1h-1zM573,350h1v1h-1z" fill="#ff00ff"/>
<text transform="translate(575.80,342.80) scale(0.7138119058690106,1)" x="2.38 7.14 11.91" y="0" text-anchor="middle" font-family="'Liberation Serif', serif" font-size="7.63" fill="#7a6a6a" stroke="#7a6a6a" stroke-width="0.15">A14</text>
<text transform="translate(575.80,349.00) scale(0.6889839442446886,1)" x="1.92 5.75 9.59 13.43 17.26 21.10 24.93" y="0" text-anchor="middle" font-family="'Liberation Serif', serif" font-size="5.95" fill="#6a6aff">FCT 12V</text>
<path d="M602,337h3v5h-3zM602,344h3v2h-3zM602,351h3v1h-3zM600,341h1v1h-1zM600,342h1v1h-1zM606,341h1v1h-1zM606,342h1v1h-1zM601,343h1v1h-1zM605,343h1v1h-1zM601,346h1v1h-1zM605,346h1v1h-1zM600,347h1v1h-1zM600,348h1v1h-1zM600,349h1v1h-1zM606,347h1v1h-1zM606,348h1v1h-1zM606,349h1v1h-1zM601,350h1v1h-1zM605,350h1v1h-1z" fill="#ff00ff"/>
<text transform="translate(607.80,342.80) scale(0.7374383690685413,1)" x="2.31 6.92 11.53" y="0" text-anchor="middle" font-family="'Liberation Serif', serif" font-size="7.63" fill="#7a6a6a" stroke="#7a6a6a" stroke-width="0.15">B14</text>
<text transform="translate(607.80,349.00) scale(0.6741061008899322,1)" x="1.98 5.93 9.89 13.85 17.80 21.76" y="0" text-anchor="middle" font-family="'Liberation Serif', serif" font-size="5.95" fill="#6a6aff">FCT 5V</text>
<path d="M656,337h3v5h-3zM656,344h3v2h-3zM656,351h3v1h-3zM654,341h1v1h-1zM654,342h1v1h-1zM660,341h1v1h-1zM660,342h1v1h-1zM655,343h1v1h-1zM659,343h1v1h-1zM655,346h1v1h-1zM659,346h1v1h-1zM654,347h1v1h-1zM654,348h1v1h-1zM654,349h1v1h-1zM660,347h1v1h-1zM660,348h1v1h-1zM660,349h1v1h-1zM655,350h1v1h-1zM659,350h1v1h-1z" fill="#ff00ff"/>
<text transform="translate(661.80,342.80) scale(0.7138119058690106,1)" x="2.38 7.14 11.91" y="0" text-anchor="middle" font-family="'Liberation Serif', serif" font-size="7.63" fill="#7a6a6a" stroke="#7a6a6a" stroke-width="0.15">A15</text>
<text transform="translate(661.80,349.00) scale(0.5873360062160062,1)" x="2.23 6.70 11.17 15.64 20.11 24.58 29.05 33.52" y="0" text-anchor="middle" font-family="'Liberation Serif', serif" font-size="5.95" fill="#6a6aff">CTRL COM</text>
<path d="M722,337h3v5h-3zM722,344h3v2h-3zM722,351h3v1h-3zM720,341h1v1h-1zM720,342h1v1h-1zM726,341h1v1h-1zM726,342h1v1h-1zM721,343h1v1h-1zM725,343h1v1h-1zM721,346h1v1h-1zM725,346h1v1h-1zM720,347h1v1h-1zM720,348h1v1h-1zM720,349h1v1h-1zM726,347h1v1h-1zM726,348h1v1h-1zM726,349h1v1h-1zM721,350h1v1h-1zM725,350h1v1h-1z" fill="#ff00ff"/>
<text transform="translate(727.80,342.80) scale(0.7138119058690106,1)" x="2.38 7.14 11.91" y="0" text-anchor="middle" font-family="'Liberation Serif', serif" font-size="7.63" fill="#7a6a6a" stroke="#7a6a6a" stroke-width="0.15">A06</text>
<text transform="translate(727.80,349.00) scale(0.6651757730771682,1)" x="2.07 6.20 10.34 14.47" y="0" text-anchor="middle" font-family="'Liberation Serif', serif" font-size="5.95" fill="#6a6aff">EQU1</text>
<path d="M754,337h3v5h-3zM754,344h3v2h-3zM754,351h3v1h-3zM752,341h1v1h-1zM752,342h1v1h-1zM758,341h1v1h-1zM758,342h1v1h-1zM753,343h1v1h-1zM757,343h1v1h-1zM753,346h1v1h-1zM757,346h1v1h-1zM752,347h1v1h-1zM752,348h1v1h-1zM752,349h1v1h-1zM758,347h1v1h-1zM758,348h1v1h-1zM758,349h1v1h-1zM753,350h1v1h-1zM757,350h1v1h-1z" fill="#ff00ff"/>
<text transform="translate(759.80,342.80) scale(0.7374383690685413,1)" x="2.31 6.92 11.53" y="0" text-anchor="middle" font-family="'Liberation Serif', serif" font-size="7.63" fill="#7a6a6a" stroke="#7a6a6a" stroke-width="0.15">B06</text>
<text transform="translate(759.80,349.00) scale(0.6651757730771682,1)" x="2.07 6.20 10.34 14.47" y="0" text-anchor="middle" font-family="'Liberation Serif', serif" font-size="5.95" fill="#6a6aff">EQU2</text>
<path d="M842,337h3v5h-3zM842,344h3v2h-3zM842,351h3v1h-3zM840,341h1v1h-1zM840,342h1v1h-1zM846,341h1v1h-1zM846,342h1v1h-1zM841,343h1v1h-1zM845,343h1v1h-1zM841,346h1v1h-1zM845,346h1v1h-1zM840,347h1v1h-1zM840,348h1v1h-1zM840,349h1v1h-1zM846,347h1v1h-1zM846,348h1v1h-1zM846,349h1v1h-1zM841,350h1v1h-1zM845,350h1v1h-1z" fill="#ff00ff"/>
<text transform="translate(847.80,342.80) scale(0.7374383690685413,1)" x="2.31 6.92 11.53" y="0" text-anchor="middle" font-family="'Liberation Serif', serif" font-size="7.63" fill="#7a6a6a" stroke="#7a6a6a" stroke-width="0.15">B02</text>
<text transform="translate(847.80,349.00) scale(0.824068376068376,1)" x="1.62 4.85 8.09 11.33 14.56 17.80" y="0" text-anchor="middle" font-family="'Liberation Serif', serif" font-size="5.95" fill="#6a6aff">12/24V</text>
<path d="M875,337h3v5h-3zM875,344h3v2h-3zM875,351h3v1h-3zM873,341h1v1h-1zM873,342h1v1h-1zM879,341h1v1h-1zM879,342h1v1h-1zM874,343h1v1h-1zM878,343h1v1h-1zM874,346h1v1h-1zM878,346h1v1h-1zM873,347h1v1h-1zM873,348h1v1h-1zM873,349h1v1h-1zM879,347h1v1h-1zM879,348h1v1h-1zM879,349h1v1h-1zM874,350h1v1h-1zM878,350h1v1h-1z" fill="#ff00ff"/>
<text transform="translate(880.80,342.80) scale(0.7138119058690106,1)" x="2.38 7.14 11.91" y="0" text-anchor="middle" font-family="'Liberation Serif', serif" font-size="7.63" fill="#7a6a6a" stroke="#7a6a6a" stroke-width="0.15">A02</text>
<text transform="translate(880.80,349.00) scale(0.7585511539998157,1)" x="1.98 5.93" y="0" text-anchor="middle" font-family="'Liberation Serif', serif" font-size="5.95" fill="#6a6aff">0V</text>
<path d="M918,337h3v5h-3zM918,344h3v2h-3zM918,351h3v1h-3zM916,341h1v1h-1zM916,342h1v1h-1zM922,341h1v1h-1zM922,342h1v1h-1zM917,343h1v1h-1zM921,343h1v1h-1zM917,346h1v1h-1zM921,346h1v1h-1zM916,347h1v1h-1zM916,348h1v1h-1zM916,349h1v1h-1zM922,347h1v1h-1zM922,348h1v1h-1zM922,349h1v1h-1zM917,350h1v1h-1zM921,350h1v1h-1z" fill="#ff00ff"/>
<text transform="translate(923.80,342.80) scale(0.7138119058690106,1)" x="2.38 7.14 11.91" y="0" text-anchor="middle" font-family="'Liberation Serif', serif" font-size="7.63" fill="#7a6a6a" stroke="#7a6a6a" stroke-width="0.15">A03</text>
<path d="M941,337h3v5h-3zM941,344h3v2h-3zM941,351h3v1h-3zM939,341h1v1h-1zM939,342h1v1h-1zM945,341h1v1h-1zM945,342h1v1h-1zM940,343h1v1h-1zM944,343h1v1h-1zM940,346h1v1h-1zM944,346h1v1h-1zM939,347h1v1h-1zM939,348h1v1h-1zM939,349h1v1h-1zM945,347h1v1h-1zM945,348h1v1h-1zM945,349h1v1h-1zM940,350h1v1h-1zM944,350h1v1h-1z" fill="#ff00ff"/>
<text transform="translate(946.80,342.80) scale(0.7374383690685413,1)" x="2.31 6.92 11.53" y="0" text-anchor="middle" font-family="'Liberation Serif', serif" font-size="7.63" fill="#7a6a6a" stroke="#7a6a6a" stroke-width="0.15">B03</text>
<text transform="translate(108.00,401.20) scale(0.9290372136766264,1)" x="2.37 7.10 11.84 16.58 21.31 26.05 30.78 35.52 40.26 44.99" y="0" text-anchor="middle" font-family="'Liberation Serif', serif" font-size="8.85" fill="#000000" stroke="#000000" stroke-width="0.12">Mitsubishi</text>
<text transform="translate(178.80,401.20) scale(0.6787961822660098,1)" x="3.31 9.94 16.57 23.20 29.83 36.46 43.09 49.72 56.35 62.98 69.61 76.24" y="0" text-anchor="middle" font-family="'Liberation Serif', serif" font-size="8.85" fill="#000000" stroke="#000000" stroke-width="0.12">MELSEC QD62E</text>
<text transform="translate(920.30,401.40) scale(1.0180579147493654,1)" x="2.14 6.43 10.72 15.00 19.29 23.57 27.86 32.15 36.43 40.72 45.01" y="0" text-anchor="middle" font-family="'Liberation Serif', serif" font-size="9.16" fill="#000000" stroke="#000000" stroke-width="0.2">Part 1 of 2</text>
<line x1="86.0" y1="598.5" x2="959.0" y2="598.5" stroke="#ff00ff" stroke-width="1" stroke-dasharray="6 5" shape-rendering="crispEdges"/>
<line x1="86.5" y1="598.0" x2="86.5" y2="676.0" stroke="#ff00ff" stroke-width="1" stroke-dasharray="6 5" shape-rendering="crispEdges"/>
<line x1="86.0" y1="664.5" x2="959.0" y2="664.5" stroke="#ff00ff" stroke-width="1" stroke-dasharray="6 5" shape-rendering="crispEdges"/>
<line x1="86.0" y1="675.5" x2="959.0" y2="675.5" stroke="#ff00ff" stroke-width="1" stroke-dasharray="6 5" shape-rendering="crispEdges"/>
<line x1="958.5" y1="598.0" x2="958.5" y2="676.0" stroke="#ff00ff" stroke-width="1" stroke-dasharray="6 5" shape-rendering="crispEdges"/>
<text transform="translate(62.00,608.20) scale(0.788877441521344,1)" x="3.04 9.13 15.21 21.30" y="0" text-anchor="middle" font-family="'Liberation Serif', serif" font-size="10.08" fill="#0000ff" stroke="#0000ff" stroke-width="0.1">–A11</text>
<path d="M117,609h4v5h-4zM116,613h1v1h-1zM116,614h1v1h-1zM121,613h1v1h-1zM121,614h1v1h-1zM117,615h1v1h-1zM120,615h1v1h-1zM118,616h1v1h-1zM119,617h1v1h-1zM119,618h1v1h-1zM118,618h1v1h-1zM117,619h1v1h-1zM120,619h1v1h-1zM116,620h1v1h-1zM116,621h1v1h-1zM121,620h1v1h-1zM121,621h1v1h-1zM117,622h1v1h-1zM120,622h1v1h-1zM118,623h1v1h-1zM119,623h1v1h-1z" fill="#ff00ff"/>
<text transform="translate(122.80,614.80) scale(0.7138119058690106,1)" x="2.38 7.14 11.91" y="0" text-anchor="middle" font-family="'Liberation Serif', serif" font-size="7.63" fill="#7a6a6a" stroke="#7a6a6a" stroke-width="0.15">A13</text>
<text transform="translate(122.80,621.00) scale(0.6826960385998342,1)" x="1.98 5.93 9.89 13.84 17.80" y="0" text-anchor="middle" font-family="'Liberation Serif', serif" font-size="5.95" fill="#6a6aff">A 24V</text>
<path d="M150,609h4v5h-4zM149,613h1v1h-1zM149,614h1v1h-1zM154,613h1v1h-1zM154,614h1v1h-1zM150,615h1v1h-1zM153,615h1v1h-1zM151,616h1v1h-1zM152,617h1v1h-1zM152,618h1v1h-1zM151,618h1v1h-1zM150,619h1v1h-1zM153,619h1v1h-1zM149,620h1v1h-1zM149,621h1v1h-1zM154,620h1v1h-1zM154,621h1v1h-1zM150,622h1v1h-1zM153,622h1v1h-1zM151,623h1v1h-1zM152,623h1v1h-1z" fill="#ff00ff"/>
<text transform="translate(155.80,614.80) scale(0.7374383690685413,1)" x="2.31 6.92 11.53" y="0" text-anchor="middle" font-family="'Liberation Serif', serif" font-size="7.63" fill="#7a6a6a" stroke="#7a6a6a" stroke-width="0.15">B13</text>
<text transform="translate(155.80,621.00) scale(0.6826960385998342,1)" x="1.98 5.93 9.89 13.84 17.80" y="0" text-anchor="middle" font-family="'Liberation Serif', serif" font-size="5.95" fill="#6a6aff">A 12V</text>
<path d="M182,609h4v5h-4zM181,613h1v1h-1zM181,614h1v1h-1zM186,613h1v1h-1zM186,614h1v1h-1zM182,615h1v1h-1zM185,615h1v1h-1zM183,616h1v1h-1zM184,617h1v1h-1zM184,618h1v1h-1zM183,618h1v1h-1zM182,619h1v1h-1zM185,619h1v1h-1zM181,620h1v1h-1zM181,621h1v1h-1zM186,620h1v1h-1zM186,621h1v1h-1zM182,622h1v1h-1zM185,622h1v1h-1zM183,623h1v1h-1zM184,623h1v1h-1z" fill="#ff00ff"/>
<text transform="translate(187.80,614.80) scale(0.7138119058690106,1)" x="2.38 7.14 11.91" y="0" text-anchor="middle" font-family="'Liberation Serif', serif" font-size="7.63" fill="#7a6a6a" stroke="#7a6a6a" stroke-width="0.15">A12</text>
<text transform="translate(187.80,621.00) scale(0.6556124096897579,1)" x="2.10 6.29 10.49 14.68" y="0" text-anchor="middle" font-family="'Liberation Serif', serif" font-size="5.95" fill="#6a6aff">A 5V</text>
<path d="M215,609h4v5h-4zM214,613h1v1h-1zM214,614h1v1h-1zM219,613h1v1h-1zM219,614h1v1h-1zM215,615h1v1h-1zM218,615h1v1h-1zM216,616h1v1h-1zM217,617h1v1h-1zM217,618h1v1h-1zM216,618h1v1h-1zM215,619h1v1h-1zM218,619h1v1h-1zM214,620h1v1h-1zM214,621h1v1h-1zM219,620h1v1h-1zM219,621h1v1h-1zM215,622h1v1h-1zM218,622h1v1h-1zM216,623h1v1h-1zM217,623h1v1h-1z" fill="#ff00ff"/>
<text transform="translate(220.80,614.80) scale(0.7138119058690106,1)" x="2.38 7.14 11.91" y="0" text-anchor="middle" font-family="'Liberation Serif', serif" font-size="7.63" fill="#7a6a6a" stroke="#7a6a6a" stroke-width="0.15">A11</text>
<text transform="translate(220.80,621.00) scale(0.698462368532755,1)" x="1.93 5.80 9.66 13.53 17.40" y="0" text-anchor="middle" font-family="'Liberation Serif', serif" font-size="5.95" fill="#6a6aff">B 24V</text>
<path d="M248,609h4v5h-4zM247,613h1v1h-1zM247,614h1v1h-1zM252,613h1v1h-1zM252,614h1v1h-1zM248,615h1v1h-1zM251,615h1v1h-1zM249,616h1v1h-1zM250,617h1v1h-1zM250,618h1v1h-1zM249,618h1v1h-1zM248,619h1v1h-1zM251,619h1v1h-1zM247,620h1v1h-1zM247,621h1v1h-1zM252,620h1v1h-1zM252,621h1v1h-1zM248,622h1v1h-1zM251,622h1v1h-1zM249,623h1v1h-1zM250,623h1v1h-1z" fill="#ff00ff"/>
<text transform="translate(253.80,614.80) scale(0.7374383690685413,1)" x="2.31 6.92 11.53" y="0" text-anchor="middle" font-family="'Liberation Serif', serif" font-size="7.63" fill="#7a6a6a" stroke="#7a6a6a" stroke-width="0.15">B11</text>
<text transform="translate(253.80,621.00) scale(0.698462368532755,1)" x="1.93 5.80 9.66 13.53 17.40" y="0" text-anchor="middle" font-family="'Liberation Serif', serif" font-size="5.95" fill="#6a6aff">B 12V</text>
<path d="M280,609h4v5h-4zM279,613h1v1h-1zM279,614h1v1h-1zM284,613h1v1h-1zM284,614h1v1h-1zM280,615h1v1h-1zM283,615h1v1h-1zM281,616h1v1h-1zM282,617h1v1h-1zM282,618h1v1h-1zM281,618h1v1h-1zM280,619h1v1h-1zM283,619h1v1h-1zM279,620h1v1h-1zM279,621h1v1h-1zM284,620h1v1h-1zM284,621h1v1h-1zM280,622h1v1h-1zM283,622h1v1h-1zM281,623h1v1h-1zM282,623h1v1h-1z" fill="#ff00ff"/>
<text transform="translate(285.80,614.80) scale(0.7138119058690106,1)" x="2.38 7.14 11.91" y="0" text-anchor="middle" font-family="'Liberation Serif', serif" font-size="7.63" fill="#7a6a6a" stroke="#7a6a6a" stroke-width="0.15">A10</text>
<text transform="translate(285.80,621.00) scale(0.6747605622601747,1)" x="2.04 6.11 10.19 14.26" y="0" text-anchor="middle" font-family="'Liberation Serif', serif" font-size="5.95" fill="#6a6aff">B 5V</text>
<path d="M313,609h4v5h-4zM312,613h1v1h-1zM312,614h1v1h-1zM317,613h1v1h-1zM317,614h1v1h-1zM313,615h1v1h-1zM316,615h1v1h-1zM314,616h1v1h-1zM315,617h1v1h-1zM315,618h1v1h-1zM314,618h1v1h-1zM313,619h1v1h-1zM316,619h1v1h-1zM312,620h1v1h-1zM312,621h1v1h-1zM317,620h1v1h-1zM317,621h1v1h-1zM313,622h1v1h-1zM316,622h1v1h-1zM314,623h1v1h-1zM315,623h1v1h-1z" fill="#ff00ff"/>
<text transform="translate(318.80,614.80) scale(0.7374383690685413,1)" x="2.31 6.92 11.53" y="0" text-anchor="middle" font-family="'Liberation Serif', serif" font-size="7.63" fill="#7a6a6a" stroke="#7a6a6a" stroke-width="0.15">B12</text>
<text transform="translate(318.80,621.00) scale(0.5617401258780569,1)" x="2.37 7.12 11.87 16.62 21.36 26.11" y="0" text-anchor="middle" font-family="'Liberation Serif', serif" font-size="5.95" fill="#6a6aff">AB COM</text>
<path d="M400,609h4v5h-4zM399,613h1v1h-1zM399,614h1v1h-1zM404,613h1v1h-1zM404,614h1v1h-1zM400,615h1v1h-1zM403,615h1v1h-1zM401,616h1v1h-1zM402,617h1v1h-1zM402,618h1v1h-1zM401,618h1v1h-1zM400,619h1v1h-1zM403,619h1v1h-1zM399,620h1v1h-1zM399,621h1v1h-1zM404,620h1v1h-1zM404,621h1v1h-1zM400,622h1v1h-1zM403,622h1v1h-1zM401,623h1v1h-1zM402,623h1v1h-1z" fill="#ff00ff"/>
<text transform="translate(405.80,614.80) scale(0.7374383690685413,1)" x="2.31 6.92 11.53" y="0" text-anchor="middle" font-family="'Liberation Serif', serif" font-size="7.63" fill="#7a6a6a" stroke="#7a6a6a" stroke-width="0.15">B10</text>
<text transform="translate(405.80,621.00) scale(0.6904092212702995,1)" x="1.90 5.70 9.51 13.31 17.11 20.91 24.71 28.52" y="0" text-anchor="middle" font-family="'Liberation Serif', serif" font-size="5.95" fill="#6a6aff">PRST 24V</text>
<path d="M433,609h4v5h-4zM432,613h1v1h-1zM432,614h1v1h-1zM437,613h1v1h-1zM437,614h1v1h-1zM433,615h1v1h-1zM436,615h1v1h-1zM434,616h1v1h-1zM435,617h1v1h-1zM435,618h1v1h-1zM434,618h1v1h-1zM433,619h1v1h-1zM436,619h1v1h-1zM432,620h1v1h-1zM432,621h1v1h-1zM437,620h1v1h-1zM437,621h1v1h-1zM433,622h1v1h-1zM436,622h1v1h-1zM434,623h1v1h-1zM435,623h1v1h-1z" fill="#ff00ff"/>
<text transform="translate(438.80,614.80) scale(0.7138119058690106,1)" x="2.38 7.14 11.91" y="0" text-anchor="middle" font-family="'Liberation Serif', serif" font-size="7.63" fill="#7a6a6a" stroke="#7a6a6a" stroke-width="0.15">A09</text>
<text transform="translate(438.80,621.00) scale(0.6904092212702995,1)" x="1.90 5.70 9.51 13.31 17.11 20.91 24.71 28.52" y="0" text-anchor="middle" font-family="'Liberation Serif', serif" font-size="5.95" fill="#6a6aff">PRST 12V</text>
<path d="M465,609h4v5h-4zM464,613h1v1h-1zM464,614h1v1h-1zM469,613h1v1h-1zM469,614h1v1h-1zM465,615h1v1h-1zM468,615h1v1h-1zM466,616h1v1h-1zM467,617h1v1h-1zM467,618h1v1h-1zM466,618h1v1h-1zM465,619h1v1h-1zM468,619h1v1h-1zM464,620h1v1h-1zM464,621h1v1h-1zM469,620h1v1h-1zM469,621h1v1h-1zM465,622h1v1h-1zM468,622h1v1h-1zM466,623h1v1h-1zM467,623h1v1h-1z" fill="#ff00ff"/>
<text transform="translate(470.80,614.80) scale(0.7374383690685413,1)" x="2.31 6.92 11.53" y="0" text-anchor="middle" font-family="'Liberation Serif', serif" font-size="7.63" fill="#7a6a6a" stroke="#7a6a6a" stroke-width="0.15">B09</text>
<text transform="translate(470.80,621.00) scale(0.678273866711823,1)" x="1.95 5.84 9.74 13.64 17.53 21.43 25.33" y="0" text-anchor="middle" font-family="'Liberation Serif', serif" font-size="5.95" fill="#6a6aff">PRST 5V</text>
<path d="M520,609h4v5h-4zM519,613h1v1h-1zM519,614h1v1h-1zM524,613h1v1h-1zM524,614h1v1h-1zM520,615h1v1h-1zM523,615h1v1h-1zM521,616h1v1h-1zM522,617h1v1h-1zM522,618h1v1h-1zM521,618h1v1h-1zM520,619h1v1h-1zM523,619h1v1h-1zM519,620h1v1h-1zM519,621h1v1h-1zM524,620h1v1h-1zM524,621h1v1h-1zM520,622h1v1h-1zM523,622h1v1h-1zM521,623h1v1h-1zM522,623h1v1h-1z" fill="#ff00ff"/>
<text transform="translate(525.80,614.80) scale(0.7374383690685413,1)" x="2.31 6.92 11.53" y="0" text-anchor="middle" font-family="'Liberation Serif', serif" font-size="7.63" fill="#7a6a6a" stroke="#7a6a6a" stroke-width="0.15">B08</text>
<text transform="translate(525.80,621.00) scale(0.6889839442446886,1)" x="1.92 5.75 9.59 13.43 17.26 21.10 24.93" y="0" text-anchor="middle" font-family="'Liberation Serif', serif" font-size="5.95" fill="#6a6aff">FCT 24V</text>
<path d="M552,609h4v5h-4zM551,613h1v1h-1zM551,614h1v1h-1zM556,613h1v1h-1zM556,614h1v1h-1zM552,615h1v1h-1zM555,615h1v1h-1zM553,616h1v1h-1zM554,617h1v1h-1zM554,618h1v1h-1zM553,618h1v1h-1zM552,619h1v1h-1zM555,619h1v1h-1zM551,620h1v1h-1zM551,621h1v1h-1zM556,620h1v1h-1zM556,621h1v1h-1zM552,622h1v1h-1zM555,622h1v1h-1zM553,623h1v1h-1zM554,623h1v1h-1z" fill="#ff00ff"/>
<text transform="translate(557.80,614.80) scale(0.7138119058690106,1)" x="2.38 7.14 11.91" y="0" text-anchor="middle" font-family="'Liberation Serif', serif" font-size="7.63" fill="#7a6a6a" stroke="#7a6a6a" stroke-width="0.15">A07</text>
<text transform="translate(557.80,621.00) scale(0.6889839442446886,1)" x="1.92 5.75 9.59 13.43 17.26 21.10 24.93" y="0" text-anchor="middle" font-family="'Liberation Serif', serif" font-size="5.95" fill="#6a6aff">FCT 12V</text>
<path d="M585,609h4v5h-4zM584,613h1v1h-1zM584,614h1v1h-1zM589,613h1v1h-1zM589,614h1v1h-1zM585,615h1v1h-1zM588,615h1v1h-1zM586,616h1v1h-1zM587,617h1v1h-1zM587,618h1v1h-1zM586,618h1v1h-1zM585,619h1v1h-1zM588,619h1v1h-1zM584,620h1v1h-1zM584,621h1v1h-1zM589,620h1v1h-1zM589,621h1v1h-1zM585,622h1v1h-1zM588,622h1v1h-1zM586,623h1v1h-1zM587,623h1v1h-1z" fill="#ff00ff"/>
<text transform="translate(590.80,614.80) scale(0.7374383690685413,1)" x="2.31 6.92 11.53" y="0" text-anchor="middle" font-family="'Liberation Serif', serif" font-size="7.63" fill="#7a6a6a" stroke="#7a6a6a" stroke-width="0.15">B07</text>
<text transform="translate(590.80,621.00) scale(0.6741061008899322,1)" x="1.98 5.93 9.89 13.85 17.80 21.76" y="0" text-anchor="middle" font-family="'Liberation Serif', serif" font-size="5.95" fill="#6a6aff">FCT 5V</text>
<path d="M640,609h4v5h-4zM639,613h1v1h-1zM639,614h1v1h-1zM644,613h1v1h-1zM644,614h1v1h-1zM640,615h1v1h-1zM643,615h1v1h-1zM641,616h1v1h-1zM642,617h1v1h-1zM642,618h1v1h-1zM641,618h1v1h-1zM640,619h1v1h-1zM643,619h1v1h-1zM639,620h1v1h-1zM639,621h1v1h-1zM644,620h1v1h-1zM644,621h1v1h-1zM640,622h1v1h-1zM643,622h1v1h-1zM641,623h1v1h-1zM642,623h1v1h-1z" fill="#ff00ff"/>
<text transform="translate(645.80,614.80) scale(0.7138119058690106,1)" x="2.38 7.14 11.91" y="0" text-anchor="middle" font-family="'Liberation Serif', serif" font-size="7.63" fill="#7a6a6a" stroke="#7a6a6a" stroke-width="0.15">A08</text>
<text transform="translate(645.80,621.00) scale(0.5873360062160062,1)" x="2.23 6.70 11.17 15.64 20.11 24.58 29.05 33.52" y="0" text-anchor="middle" font-family="'Liberation Serif', serif" font-size="5.95" fill="#6a6aff">CTRL COM</text>
<path d="M706,609h4v5h-4zM705,613h1v1h-1zM705,614h1v1h-1zM710,613h1v1h-1zM710,614h1v1h-1zM706,615h1v1h-1zM709,615h1v1h-1zM707,616h1v1h-1zM708,617h1v1h-1zM708,618h1v1h-1zM707,618h1v1h-1zM706,619h1v1h-1zM709,619h1v1h-1zM705,620h1v1h-1zM705,621h1v1h-1zM710,620h1v1h-1zM710,621h1v1h-1zM706,622h1v1h-1zM709,622h1v1h-1zM707,623h1v1h-1zM708,623h1v1h-1z" fill="#ff00ff"/>
<text transform="translate(711.80,614.80) scale(0.7138119058690106,1)" x="2.38 7.14 11.91" y="0" text-anchor="middle" font-family="'Liberation Serif', serif" font-size="7.63" fill="#7a6a6a" stroke="#7a6a6a" stroke-width="0.15">A05</text>
<text transform="translate(711.80,621.00) scale(0.6651757730771682,1)" x="2.07 6.20 10.34 14.47" y="0" text-anchor="middle" font-family="'Liberation Serif', serif" font-size="5.95" fill="#6a6aff">EQU1</text>
<path d="M737,609h4v5h-4zM736,613h1v1h-1zM736,614h1v1h-1zM741,613h1v1h-1zM741,614h1v1h-1zM737,615h1v1h-1zM740,615h1v1h-1zM738,616h1v1h-1zM739,617h1v1h-1zM739,618h1v1h-1zM738,618h1v1h-1zM737,619h1v1h-1zM740,619h1v1h-1zM736,620h1v1h-1zM736,621h1v1h-1zM741,620h1v1h-1zM741,621h1v1h-1zM737,622h1v1h-1zM740,622h1v1h-1zM738,623h1v1h-1zM739,623h1v1h-1z" fill="#ff00ff"/>
<text transform="translate(742.80,614.80) scale(0.7374383690685413,1)" x="2.31 6.92 11.53" y="0" text-anchor="middle" font-family="'Liberation Serif', serif" font-size="7.63" fill="#7a6a6a" stroke="#7a6a6a" stroke-width="0.15">B05</text>
<text transform="translate(742.80,621.00) scale(0.6651757730771682,1)" x="2.07 6.20 10.34 14.47" y="0" text-anchor="middle" font-family="'Liberation Serif', serif" font-size="5.95" fill="#6a6aff">EQU2</text>
<path d="M826,609h4v5h-4zM825,613h1v1h-1zM825,614h1v1h-1zM830,613h1v1h-1zM830,614h1v1h-1zM826,615h1v1h-1zM829,615h1v1h-1zM827,616h1v1h-1zM828,617h1v1h-1zM828,618h1v1h-1zM827,618h1v1h-1zM826,619h1v1h-1zM829,619h1v1h-1zM825,620h1v1h-1zM825,621h1v1h-1zM830,620h1v1h-1zM830,621h1v1h-1zM826,622h1v1h-1zM829,622h1v1h-1zM827,623h1v1h-1zM828,623h1v1h-1z" fill="#ff00ff"/>
<text transform="translate(831.80,614.80) scale(0.7374383690685413,1)" x="2.31 6.92 11.53" y="0" text-anchor="middle" font-family="'Liberation Serif', serif" font-size="7.63" fill="#7a6a6a" stroke="#7a6a6a" stroke-width="0.15">B01</text>
<text transform="translate(831.80,621.00) scale(0.824068376068376,1)" x="1.62 4.85 8.09 11.33 14.56 17.80" y="0" text-anchor="middle" font-family="'Liberation Serif', serif" font-size="5.95" fill="#6a6aff">12/24V</text>
<path d="M858,609h4v5h-4zM857,613h1v1h-1zM857,614h1v1h-1zM862,613h1v1h-1zM862,614h1v1h-1zM858,615h1v1h-1zM861,615h1v1h-1zM859,616h1v1h-1zM860,617h1v1h-1zM860,618h1v1h-1zM859,618h1v1h-1zM858,619h1v1h-1zM861,619h1v1h-1zM857,620h1v1h-1zM857,621h1v1h-1zM862,620h1v1h-1zM862,621h1v1h-1zM858,622h1v1h-1zM861,622h1v1h-1zM859,623h1v1h-1zM860,623h1v1h-1z" fill="#ff00ff"/>
<text transform="translate(863.80,614.80) scale(0.7138119058690106,1)" x="2.38 7.14 11.91" y="0" text-anchor="middle" font-family="'Liberation Serif', serif" font-size="7.63" fill="#7a6a6a" stroke="#7a6a6a" stroke-width="0.15">A01</text>
<text transform="translate(863.80,621.00) scale(0.7585511539998157,1)" x="1.98 5.93" y="0" text-anchor="middle" font-family="'Liberation Serif', serif" font-size="5.95" fill="#6a6aff">0V</text>
<path d="M902,609h4v5h-4zM901,613h1v1h-1zM901,614h1v1h-1zM906,613h1v1h-1zM906,614h1v1h-1zM902,615h1v1h-1zM905,615h1v1h-1zM903,616h1v1h-1zM904,617h1v1h-1zM904,618h1v1h-1zM903,618h1v1h-1zM902,619h1v1h-1zM905,619h1v1h-1zM901,620h1v1h-1zM901,621h1v1h-1zM906,620h1v1h-1zM906,621h1v1h-1zM902,622h1v1h-1zM905,622h1v1h-1zM903,623h1v1h-1zM904,623h1v1h-1z" fill="#ff00ff"/>
<text transform="translate(907.80,614.80) scale(0.7138119058690106,1)" x="2.38 7.14 11.91" y="0" text-anchor="middle" font-family="'Liberation Serif', serif" font-size="7.63" fill="#7a6a6a" stroke="#7a6a6a" stroke-width="0.15">A04</text>
<path d="M924,609h4v5h-4zM923,613h1v1h-1zM923,614h1v1h-1zM928,613h1v1h-1zM928,614h1v1h-1zM924,615h1v1h-1zM927,615h1v1h-1zM925,616h1v1h-1zM926,617h1v1h-1zM926,618h1v1h-1zM925,618h1v1h-1zM924,619h1v1h-1zM927,619h1v1h-1zM923,620h1v1h-1zM923,621h1v1h-1zM928,620h1v1h-1zM928,621h1v1h-1zM924,622h1v1h-1zM927,622h1v1h-1zM925,623h1v1h-1zM926,623h1v1h-1z" fill="#ff00ff"/>
<text transform="translate(929.80,614.80) scale(0.7374383690685413,1)" x="2.31 6.92 11.53" y="0" text-anchor="middle" font-family="'Liberation Serif', serif" font-size="7.63" fill="#7a6a6a" stroke="#7a6a6a" stroke-width="0.15">B04</text>
<text transform="translate(92.00,674.20) scale(0.9290372136766264,1)" x="2.37 7.10 11.84 16.58 21.31 26.05 30.78 35.52 40.26 44.99" y="0" text-anchor="middle" font-family="'Liberation Serif', serif" font-size="8.85" fill="#000000" stroke="#000000" stroke-width="0.12">Mitsubishi</text>
<text transform="translate(162.80,674.20) scale(0.6787961822660098,1)" x="3.31 9.94 16.57 23.20 29.83 36.46 43.09 49.72 56.35 62.98 69.61 76.24" y="0" text-anchor="middle" font-family="'Liberation Serif', serif" font-size="8.85" fill="#000000" stroke="#000000" stroke-width="0.12">MELSEC QD62E</text>
<text transform="translate(904.30,674.40) scale(1.0180579147493654,1)" x="2.14 6.43 10.72 15.00 19.29 23.57 27.86 32.15 36.43 40.72 45.01" y="0" text-anchor="middle" font-family="'Liberation Serif', serif" font-size="9.16" fill="#000000" stroke="#000000" stroke-width="0.2">Part 2 of 2</text>
<line x1="157.5" y1="484" x2="157.5" y2="550" stroke="#ff0000" stroke-width="1"/>
<path d="M154,487h7v1h-7zM154,488h7v1h-7zM155,489h5v1h-5zM155,490h4v1h-4zM155,491h4v1h-4zM156,492h3v1h-3zM156,493h3v1h-3z" fill="#ff0000"/>
<text transform="translate(160.90,484.00) rotate(-90) scale(0.8541483603947789,1)" x="2.93 8.78 14.63 20.49 26.34" y="0" text-anchor="middle" font-family="'Liberation Serif', serif" font-size="10.53" fill="#0000ff" stroke="#0000ff" stroke-width="0.3">–1P24</text>
<text transform="translate(149.50,484.20) rotate(-90) scale(1.0043333333333333,1)" x="1.66 4.98 8.30" y="0" text-anchor="middle" font-family="'Liberation Serif', serif" font-size="7.33" fill="#a0a880">6.8</text>
<line x1="920.5" y1="473" x2="920.5" y2="550" stroke="#ff0000" stroke-width="1"/>
<path d="M917,477h6v1h-6zM917,478h6v1h-6zM918,479h5v1h-5zM918,480h4v1h-4zM919,481h3v1h-3zM919,482h3v1h-3z" fill="#ff0000"/>
<text transform="translate(922.90,473.00) rotate(-90) scale(0.866709365694702,1)" x="2.88 8.65 14.42 20.19 25.96" y="0" text-anchor="middle" font-family="'Liberation Serif', serif" font-size="10.38" fill="#0000ff" stroke="#0000ff" stroke-width="0.3">–1P24</text>
<text transform="translate(912.00,472.00) rotate(-90) scale(0.9684642857142857,1)" x="1.74 5.23 8.71 12.20" y="0" text-anchor="middle" font-family="'Liberation Serif', serif" font-size="7.33" fill="#a0a880">17.3</text>
<line x1="963.5" y1="473" x2="963.5" y2="550" stroke="#ff0000" stroke-width="1"/>
<path d="M960,477h6v1h-6zM960,478h6v1h-6zM961,479h5v1h-5zM961,480h4v1h-4zM962,481h3v1h-3zM962,482h3v1h-3z" fill="#ff0000"/>
<text transform="translate(965.90,473.00) rotate(-90) scale(0.866709365694702,1)" x="2.88 8.65 14.42 20.19 25.96" y="0" text-anchor="middle" font-family="'Liberation Serif', serif" font-size="10.38" fill="#0000ff" stroke="#0000ff" stroke-width="0.3">–1P24</text>
<text transform="translate(955.00,472.00) rotate(-90) scale(0.9684642857142857,1)" x="1.74 5.23 8.71 12.20" y="0" text-anchor="middle" font-family="'Liberation Serif', serif" font-size="7.33" fill="#a0a880">19.1</text>
<text transform="translate(865.0,721.9) scale(0.698,1)" x="0" y="0" font-family="'Liberation Serif', serif" font-size="39.5" fill="#0000ff" stroke="#0000ff" stroke-width="0.9">Q</text>
<text transform="translate(885.5,721.9) scale(0.715,1)" x="0" y="0" font-family="'Liberation Serif', serif" font-size="39.5" fill="#0000ff" stroke="#0000ff" stroke-width="0.9">D</text>
<text transform="translate(906.6,721.9) scale(0.99,1)" x="0" y="0" font-family="'Liberation Serif', serif" font-size="39.5" fill="#0000ff" stroke="#0000ff" stroke-width="0.9">6</text>
<text transform="translate(926.5,721.9) scale(1.04,1)" x="0" y="0" font-family="'Liberation Serif', serif" font-size="39.5" fill="#0000ff" stroke="#0000ff" stroke-width="0.9">2</text>
</svg>
</body></html>
